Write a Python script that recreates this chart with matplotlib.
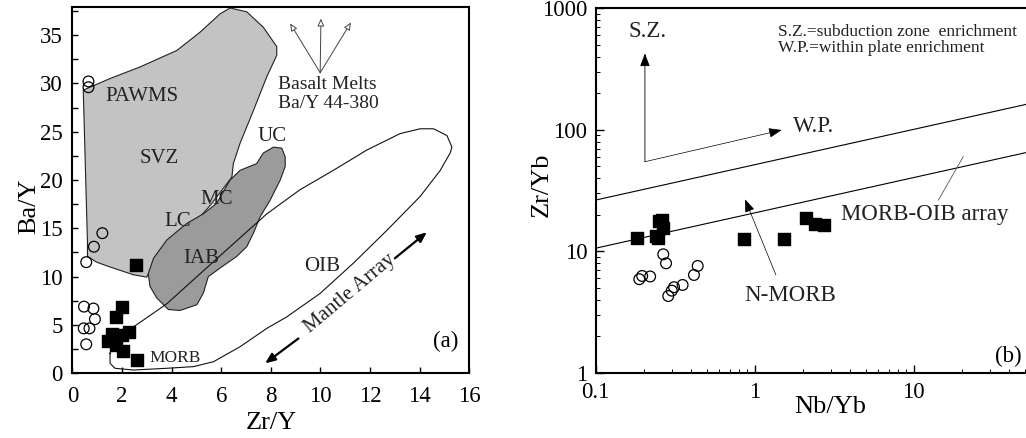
import matplotlib
matplotlib.use("Agg")
import matplotlib.pyplot as plt
from matplotlib.patches import Polygon
from matplotlib.ticker import MultipleLocator, LogLocator, NullFormatter, FixedLocator, FixedFormatter

plt.rcParams['font.family'] = ['Liberation Serif', 'DejaVu Serif']

# ---- panel (a): Ba/Y vs Zr/Y ----
circ_zry = [0.65, 0.65, 1.21, 0.87, 0.56, 0.47, 0.85, 0.91, 0.46, 0.69, 0.56]
circ_bay = [30.2, 29.6, 14.5, 13.1, 11.5, 6.9, 6.7, 5.6, 4.65, 4.65, 3.0]
sq_zry = [2.55, 2.0, 1.75, 1.59, 2.28, 1.99, 1.45, 1.75, 2.04, 2.6]
sq_bay = [11.2, 6.9, 5.8, 4.1, 4.25, 3.95, 3.3, 2.9, 2.35, 1.4]

# PAWMS / SVZ field
svz_x = [0.44, 1.52, 2.73, 4.21, 5.15, 5.96, 6.36, 7.03, 7.70, 8.24, 8.24, 7.84, 7.30,
         6.76, 6.49, 6.43, 5.6, 5.15, 4.34, 3.27, 3.0, 2.46, 1.52, 0.98, 0.61, 0.61]
svz_y = [29.3, 30.5, 31.7, 33.4, 35.3, 37.2, 37.8, 37.4, 35.8, 33.8, 32.9, 30.7, 27.2,
         23.8, 21.7, 20.3, 17.5, 16.2, 14.5, 11.4, 9.95, 10.2, 11.0, 11.5, 12.1, 13.5]

# IAB / crust field
iab_x = [8.11, 8.44, 8.58, 8.58, 8.38, 7.97, 7.57, 7.30, 7.03, 6.63, 5.96, 5.48, 5.28, 5.02,
         4.34, 3.87, 3.40, 3.13, 3.06, 3.27, 3.81, 4.61, 5.28, 5.82, 6.36, 6.76, 7.43, 7.70]
iab_y = [23.4, 23.3, 22.4, 21.4, 20.0, 17.9, 16.2, 14.5, 13.1, 12.1, 10.9, 10.0, 8.3, 7.1,
         6.5, 6.6, 7.8, 9.0, 10.3, 11.9, 13.8, 15.5, 16.5, 17.6, 20.0, 21.0, 21.7, 22.8]

# MORB-OIB mantle array envelope
oib_x = [1.52, 1.52, 1.72, 2.46, 3.81, 4.88, 5.69, 6.76, 7.84, 8.65, 9.99, 11.33, 12.68,
         14.02, 14.83, 15.23, 15.30, 15.1, 14.56, 14.02, 13.21, 11.87, 10.52, 9.18, 7.84,
         6.49, 5.15, 3.81, 2.86, 2.46, 1.92, 1.65, 1.52]
oib_y = [2.07, 1.03, 0.52, 0.34, 0.52, 0.69, 1.2, 2.75, 4.65, 5.85, 8.27, 11.4, 14.8,
         18.3, 21.0, 22.8, 23.4, 24.6, 25.3, 25.3, 24.8, 23.1, 21.0, 19.0, 16.5,
         13.4, 10.3, 7.2, 5.5, 4.8, 4.1, 3.1, 2.07]

melt_origin = (9.99, 31.1)
melt_tips = [(8.78, 36.2), (10.02, 36.7), (11.23, 36.3)]

# ---- panel (b): Zr/Yb vs Nb/Yb ----
sq_nbyb = [0.181, 0.238, 0.245, 0.25, 0.262, 0.265, 0.86, 1.53, 2.10, 2.40, 2.72]
sq_zryb = [12.8, 13.4, 12.9, 17.6, 18.0, 15.4, 12.6, 12.6, 18.7, 16.8, 16.3]
circ_nbyb = [0.188, 0.196, 0.220, 0.266, 0.277, 0.286, 0.301, 0.311, 0.352, 0.415, 0.438]
circ_zryb = [5.89, 6.26, 6.2, 9.44, 7.96, 4.28, 4.74, 5.06, 5.28, 6.38, 7.57]

array_x = [0.1, 100]
array_upper = [26.4, 197]
array_lower = [10.6, 79]

fig = plt.figure(figsize=(10.26, 4.38), dpi=100)

# panel (a)
ax1 = fig.add_axes([0.0705, 0.1477, 0.3869, 0.8363])
ax1.add_patch(Polygon(list(zip(svz_x, svz_y)), closed=True, facecolor='#c3c3c3',
                      edgecolor='#222222', lw=0.8, zorder=1))
ax1.add_patch(Polygon(list(zip(iab_x, iab_y)), closed=True, facecolor='#9b9b9b',
                      edgecolor='#222222', lw=0.8, zorder=2))
ax1.plot(oib_x, oib_y, color='#111111', lw=0.8, zorder=3)

for tx, ty in melt_tips:
    ax1.annotate('', xy=(tx, ty), xytext=melt_origin,
                 arrowprops=dict(arrowstyle='-|>,head_length=0.45,head_width=0.2',
                                 color='#444444', fc='white', lw=0.7, shrinkA=0, shrinkB=0))

ax1.annotate('', xy=(7.77, 1.03), xytext=(9.11, 3.6),
             arrowprops=dict(arrowstyle='-|>,head_length=0.6,head_width=0.25',
                             color='black', lw=1.6, shrinkA=0, shrinkB=0))
ax1.annotate('', xy=(14.29, 14.6), xytext=(13.0, 11.9),
             arrowprops=dict(arrowstyle='-|>,head_length=0.6,head_width=0.25',
                             color='black', lw=1.6, shrinkA=0, shrinkB=0))
ax1.text(11.2, 8.3, 'Mantle Array', rotation=40, fontsize=15, ha='center', va='center',
         rotation_mode='anchor', zorder=5, color='#222222')

ax1.scatter(circ_zry, circ_bay, s=60, facecolors='none', edgecolors='black', lw=0.9, zorder=6)
ax1.scatter(sq_zry, sq_bay, s=75, marker='s', color='black', zorder=6)

labels_a = [('PAWMS', 2.8, 28.6), ('SVZ', 3.5, 22.2), ('UC', 8.05, 24.5), ('MC', 5.8, 18.0),
            ('LC', 4.25, 15.75), ('IAB', 5.2, 11.9), ('OIB', 10.05, 11.1)]
for name, lx, ly in labels_a:
    ax1.text(lx, ly, name, fontsize=15, ha='center', va='center', color='#222222', zorder=5)
ax1.text(4.15, 1.6, 'MORB', fontsize=12.5, ha='center', va='center', color='#222222')
ax1.text(15.05, 3.3, '(a)', fontsize=16.5, ha='center', va='center')
ax1.text(8.3, 28.9, 'Basalt Melts\nBa/Y 44-380', fontsize=14, ha='left', va='center',
         linespacing=1.2, color='#222222')

ax1.set_xlim(0, 16)
ax1.set_ylim(0, 37.9)
ax1.xaxis.set_major_locator(MultipleLocator(2))
ax1.yaxis.set_major_locator(MultipleLocator(5))
ax1.yaxis.set_minor_locator(MultipleLocator(2.5))
ax1.tick_params(which='both', direction='in', labelsize=16.5, length=4, width=1)
ax1.tick_params(axis='x', pad=9)
ax1.tick_params(axis='y', pad=7)
ax1.set_xlabel('Zr/Y', fontsize=19, va='center')
ax1.set_ylabel('Ba/Y', fontsize=19, va='center')
ax1.xaxis.set_label_coords(0.5, -0.135)
ax1.yaxis.set_label_coords(-0.108, 0.455)
for sp in ax1.spines.values():
    sp.set_linewidth(1.5)

# panel (b)
ax2 = fig.add_axes([0.5806, 0.149, 0.4649, 0.832])
ax2.set_xscale('log')
ax2.set_yscale('log')
ax2.plot(array_x, array_upper, color='black', lw=0.8)
ax2.plot(array_x, array_lower, color='black', lw=0.8)
ax2.plot([14.3, 20.5], [26.4, 60.1], color='#555555', lw=0.6)

ax2.annotate('', xy=(0.204, 426), xytext=(0.204, 54.6),
             arrowprops=dict(arrowstyle='-|>,head_length=0.8,head_width=0.3',
                             fc='black', ec='black', lw=0.6, shrinkA=0, shrinkB=0))
ax2.annotate('', xy=(1.48, 99.6), xytext=(0.204, 54.6),
             arrowprops=dict(arrowstyle='-|>,head_length=0.8,head_width=0.3',
                             fc='black', ec='black', lw=0.5, shrinkA=0, shrinkB=0))
ax2.annotate('', xy=(0.869, 26.8), xytext=(1.36, 6.38),
             arrowprops=dict(arrowstyle='-|>,head_length=0.8,head_width=0.3',
                             fc='black', ec='black', lw=0.5, shrinkA=0, shrinkB=0))

ax2.scatter(circ_nbyb, circ_zryb, s=60, facecolors='none', edgecolors='black', lw=0.9, zorder=6)
ax2.scatter(sq_nbyb, sq_zryb, s=75, marker='s', color='black', zorder=6)

ax2.text(0.213, 641, 'S.Z.', fontsize=16.5, ha='center', va='center', color='#222222')
ax2.text(2.34, 106, 'W.P.', fontsize=16.5, ha='center', va='center', color='#222222')
ax2.text(1.41, 545, 'S.Z.=subduction zone  enrichment\nW.P.=within plate enrichment',
         fontsize=12.5, ha='left', va='center', linespacing=1.0, color='#222222')
ax2.text(11.8, 19.9, 'MORB-OIB array', fontsize=16.5, ha='center', va='center', color='#222222')
ax2.text(1.67, 4.36, 'N-MORB', fontsize=16.5, ha='center', va='center', color='#222222')
ax2.text(39.4, 1.36, '(b)', fontsize=16.5, ha='center', va='center')

ax2.set_xlim(0.1, 100)
ax2.set_ylim(1, 1000)
ax2.xaxis.set_major_locator(FixedLocator([0.1, 1, 10]))
ax2.xaxis.set_major_formatter(FixedFormatter(['0.1', '1', '10']))
ax2.yaxis.set_major_locator(FixedLocator([1, 10, 100, 1000]))
ax2.yaxis.set_major_formatter(FixedFormatter(['1', '10', '100', '1000']))
ax2.xaxis.set_minor_locator(LogLocator(base=10, subs=range(2, 10)))
ax2.yaxis.set_minor_locator(LogLocator(base=10, subs=range(2, 10)))
ax2.xaxis.set_minor_formatter(NullFormatter())
ax2.yaxis.set_minor_formatter(NullFormatter())
ax2.tick_params(which='major', direction='in', labelsize=16.5, length=6, width=1)
ax2.tick_params(which='minor', direction='in', length=3, width=0.7)
ax2.tick_params(axis='x', pad=7)
ax2.tick_params(axis='y', pad=6)
ax2.set_xlabel('Nb/Yb', fontsize=19, va='center')
ax2.set_ylabel('Zr/Yb', fontsize=19, va='center')
ax2.xaxis.set_label_coords(0.491, -0.094)
ax2.yaxis.set_label_coords(-0.113, 0.515)
for sp in ax2.spines.values():
    sp.set_linewidth(1.5)

fig.savefig('out.png', dpi=100)
